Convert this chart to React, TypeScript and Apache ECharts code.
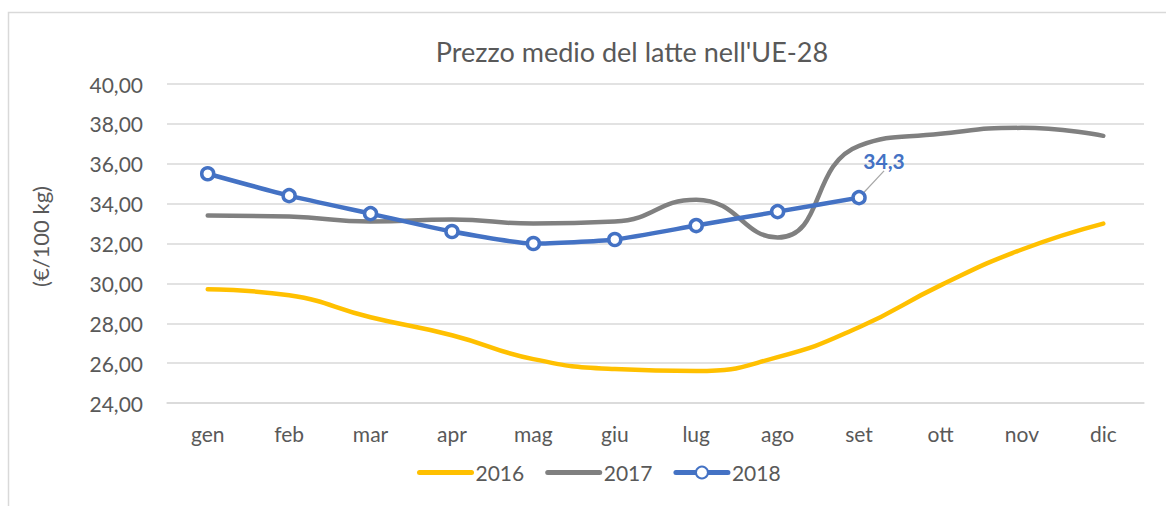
import React, { useEffect, useRef } from "react";
import * as echarts from "echarts";

const months = ["gen", "feb", "mar", "apr", "mag", "giu", "lug", "ago", "set", "ott", "nov", "dic"];
const s2016 = [29.7, 29.4, 28.3, 27.4, 26.2, 25.7, 25.6, 26.3, 27.8, 29.9, 31.7, 33.0];
const s2017 = [33.4, 33.35, 33.1, 33.2, 33.0, 33.1, 34.2, 32.3, 36.9, 37.5, 37.8, 37.4];
const s2018 = [35.5, 34.4, 33.5, 32.6, 32.0, 32.2, 32.9, 33.6, 34.3];
const yTicks = { min: 24, max: 40, interval: 2 };
const titleText = "Prezzo medio del latte nell'UE-28";
const yName = "(€/100 kg)";
const FONT = "Lato";
const TXT = "#595959";

export default function App() {
  const ref = useRef<HTMLDivElement>(null);
  useEffect(() => {
    const chart = echarts.init(ref.current!, null, { renderer: "svg" });
    const last = s2018.length - 1;
    chart.setOption({
      animation: false,
      backgroundColor: "#fff",
      textStyle: { fontFamily: FONT },
      title: {
        text: titleText,
        left: 627,
        top: 33,
        textAlign: "center",
        textStyle: { fontFamily: FONT, fontSize: 27, fontWeight: "normal", color: TXT },
      },
      graphic: [
        {
          type: "rect",
          shape: { x: 8.5, y: 12.5, width: 1300, height: 700 },
          style: { fill: "none", stroke: "#D9D9D9", lineWidth: 1.5 },
          silent: true,
        },
      ],
      legend: {
        bottom: 18,
        left: 412,
        itemWidth: 52,
        itemHeight: 15,
        itemGap: 21,
        lineStyle: { width: 5, cap: "round" },
        textStyle: { fontFamily: FONT, fontSize: 21, color: TXT, padding: [0, 0, 0, -1] },
        data: [
          { name: "2016", itemStyle: { opacity: 0 } },
          { name: "2017", itemStyle: { opacity: 0 } },
          { name: "2018" },
        ],
      },
      grid: { left: 167, right: 22, top: 84, bottom: 103 },
      xAxis: {
        type: "category",
        data: months,
        boundaryGap: true,
        axisLine: { show: true, lineStyle: { color: "#D9D9D9", width: 1.5 } },
        axisTick: { show: false },
        axisLabel: { fontFamily: FONT, fontSize: 21, color: TXT, margin: 20 },
      },
      yAxis: {
        type: "value",
        min: yTicks.min,
        max: yTicks.max,
        interval: yTicks.interval,
        name: yName,
        nameLocation: "middle",
        nameGap: 116,
        nameTextStyle: { fontFamily: FONT, fontSize: 22, color: TXT, padding: [0, 0, 0, 14] },
        axisLine: { show: false },
        axisTick: { show: false },
        splitLine: { lineStyle: { color: "#D9D9D9", width: 1.5 } },
        axisLabel: {
          fontFamily: FONT,
          fontSize: 21,
          color: TXT,
          margin: 24,
          formatter: (v: number) => v.toFixed(2).replace(".", ","),
        },
      },
      series: [
        {
          name: "2016",
          type: "line",
          data: s2016,
          smooth: 0.5,
          symbol: "none",
          lineStyle: { color: "#FFC000", width: 4.5, cap: "round" },
          itemStyle: { color: "#FFC000" },
        },
        {
          name: "2017",
          type: "line",
          data: s2017,
          smooth: 0.5,
          symbol: "none",
          lineStyle: { color: "#808080", width: 4.5, cap: "round" },
          itemStyle: { color: "#808080" },
        },
        {
          name: "2018",
          type: "line",
          smooth: 0.2,
          symbol: "circle",
          symbolSize: 12,
          z: 5,
          lineStyle: { color: "#4472C4", width: 4.5, cap: "round" },
          itemStyle: { color: "#fff", borderColor: "#4472C4", borderWidth: 3.5 },
          data: s2018.map((v, i) =>
            i === last
              ? {
                  value: v,
                  label: {
                    show: true,
                    position: "top",
                    formatter: (p: any) => String(p.value).replace(".", ","),
                    fontFamily: FONT,
                    fontSize: 21,
                    fontWeight: "bold",
                    color: "#4472C4",
                  },
                  labelLine: { show: true, lineStyle: { color: "#A6A6A6", width: 1.2 } },
                }
              : v
          ),
          labelLayout: (p: any) => (p.dataIndex === last ? { dx: 25, dy: -14 } : {}),
          labelLine: { show: true, lineStyle: { color: "#A6A6A6", width: 1.2 } },
        },
      ],
    });
    return () => chart.dispose();
  }, []);
  return (
    <div
      ref={ref}
      style={{ position: "absolute", left: 0, top: 0, width: 1166, height: 506 }}
    />
  );
}
